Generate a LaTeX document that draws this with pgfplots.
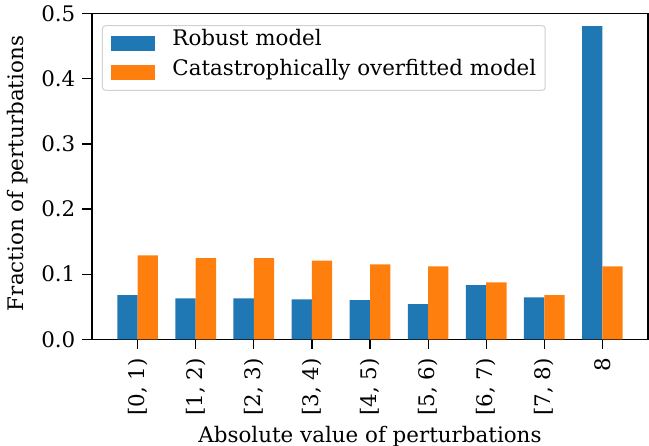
\documentclass[border=0pt]{standalone}
\usepackage{fontspec}
\setmainfont{DejaVu Serif}
\usepackage{pgfplots}
\pgfplotsset{compat=1.18}
\usetikzlibrary{calc}
\definecolor{tabblue}{HTML}{1F77B4}
\definecolor{taborange}{HTML}{FF7F0E}
\begin{document}
\begin{tikzpicture}
\begin{axis}[
  scale only axis,
  width=556pt, height=325.6pt,
  xmin=-0.785, xmax=8.785,
  ymin=0, ymax=0.5,
  xtick={0,1,2,3,4,5,6,7,8},
  xticklabels={{[0, 1)},{[1, 2)},{[2, 3)},{[3, 4)},{[4, 5)},{[5, 6)},{[6, 7)},{[7, 8)},{8}},
  ytick={0,0.1,0.2,0.3,0.4,0.5},
  yticklabel style={/pgf/number format/fixed,/pgf/number format/fixed zerofill,/pgf/number format/precision=1},
  /pgf/number format/assume math mode=true,
  x tick label style={rotate=90, anchor=east, inner sep=0pt, outer sep=0pt, xshift=-9.5pt, font=\fontsize{21.4}{25}\selectfont},
  y tick label style={inner sep=0pt, xshift=-7pt, font=\fontsize{21.4}{25}\selectfont},
  tick align=outside,
  major tick length=9.5pt,
  tick style={black, line width=1.2pt},
  axis line style={line width=1.2pt},
  xtick pos=bottom, ytick pos=left,
  xlabel={Absolute value of perturbations},
  ylabel={Fraction of perturbations},
  every axis x label/.style={at={(rel axis cs:0.5,0)}, anchor=base, yshift=-102.7pt, font=\fontsize{21.4}{25}\selectfont},
  every axis y label/.style={at={(rel axis cs:0,0.5)}, rotate=90, anchor=center, yshift=74pt, xshift=3pt, font=\fontsize{21.4}{25}\selectfont},
  ybar, bar width=0.35, bar shift=0pt,
  legend style={at={(rel axis cs:0,1)}, xshift=10pt, yshift=-11.5pt, anchor=north west, draw=black!18, line width=1pt, fill=white, rounded corners=3pt, font=\fontsize{21.4}{25}\selectfont, inner xsep=9pt, inner ysep=10pt, row sep=14.6pt,
    nodes={inner sep=0pt, text height=0.76em, text depth=0.24em}},
  legend image code/.code={\fill[#1, sharp corners] (0pt,-7.5pt) rectangle (43pt,7.5pt); \path (0pt,0pt) (61pt,0pt);},
  legend cell align=left,
]
\addplot[fill=tabblue, draw=none, bar shift=-0.175] coordinates {(0,0.068) (1,0.063) (2,0.063) (3,0.0615) (4,0.060) (5,0.054) (6,0.083) (7,0.0645) (8,0.481)};
\addlegendentry{Robust model}
\addplot[fill=taborange, draw=none, bar shift=0.175] coordinates {(0,0.129) (1,0.1245) (2,0.1245) (3,0.121) (4,0.115) (5,0.112) (6,0.0875) (7,0.068) (8,0.112)};
\addlegendentry{Catastrophically overfitted model}
\end{axis}
\pgfresetboundingbox
\path[use as bounding box] ($(current axis.south west)+(-92pt,-106.7pt)$) rectangle ($(current axis.north east)+(1pt,13.7pt)$);
\end{tikzpicture}
\end{document}
